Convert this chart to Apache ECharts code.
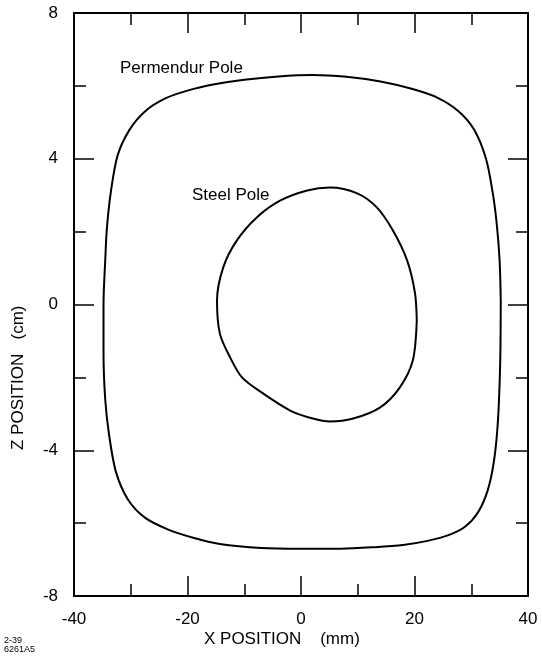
<!DOCTYPE html>
<html>
<head>
<meta charset="utf-8">
<script src="https://cdn.jsdelivr.net/npm/echarts@6/dist/echarts.min.js"></script>
<style>
html,body{margin:0;padding:0;background:#fff;}
#chart{width:542px;height:656px;}
</style>
</head>
<body>
<div id="chart"></div>
<script>
// X position (mm), Z position (cm)
var permendurX = [35.2, 35.0, 34.5, 33.8, 32.6, 30.5, 27.8, 24.0, 19.5, 14.0, 8.0, 2.0, -4.0, -10.0, -15.0, -20.0, -24.0, -27.5, -30.2, -32.3, -33.5, -34.2, -34.5, -34.8, -34.8, -34.5, -33.8, -32.6, -30.5, -27.5, -23.5, -19.0, -14.3, -7.0, 0.0, 7.0, 13.0, 18.0, 22.5, 26.0, 28.9, 31.2, 32.9, 34.0, 34.7, 35.1, 35.2];
var permendurZ = [0.1, 1.2, 2.2, 3.05, 4.0, 4.8, 5.3, 5.68, 5.92, 6.12, 6.25, 6.3, 6.26, 6.17, 6.05, 5.87, 5.65, 5.3, 4.8, 4.1, 3.1, 2.1, 1.2, 0.0, -1.3, -2.6, -3.6, -4.6, -5.35, -5.85, -6.17, -6.4, -6.57, -6.68, -6.7, -6.7, -6.66, -6.6, -6.48, -6.33, -6.1, -5.7, -5.1, -4.3, -3.2, -1.6, 0.1];
var steelX = [20.4, 20.1, 18.7, 16.2, 13.4, 9.9, 5.1, 1.1, -3.7, -7.8, -11.3, -13.7, -14.8, -14.3, -12.5, -10.4, -6.7, -1.9, 2.1, 5.1, 9.2, 13.9, 17.4, 19.7, 20.4];
var steelZ = [-0.44, 0.3, 1.21, 2.03, 2.66, 3.05, 3.21, 3.13, 2.85, 2.39, 1.76, 1.02, 0.11, -0.8, -1.45, -2.0, -2.44, -2.91, -3.13, -3.21, -3.13, -2.83, -2.28, -1.54, -0.44];
var xTicks = [-40, -20, 0, 20, 40];
var zTicks = [-8, -4, 0, 4, 8];
var curveNames = ['Permendur Pole', 'Steel Pole'];
var xTitle = 'X POSITION    (mm)';
var zTitle = 'Z POSITION   (cm)';
var footnote = '2-39\n6261A5';

function pairs(xs, zs) { return xs.map(function (v, i) { return [v, zs[i]]; }); }

var FONT = '"Liberation Sans", Arial, Helvetica, sans-serif';
var chart = echarts.init(document.getElementById('chart'));

function axisCommon(extra) {
  var a = {
    type: 'value',
    axisLine: { show: true, onZero: false, lineStyle: { color: '#000', width: 2 } },
    axisTick: { show: true, inside: true, length: 20, lineStyle: { color: '#000', width: 1.5 } },
    minorTick: { show: true, splitNumber: 2, length: 12, lineStyle: { color: '#000', width: 1.5 } },
    splitLine: { show: false },
    minorSplitLine: { show: false }
  };
  for (var k in extra) a[k] = extra[k];
  return a;
}

var option = {
  backgroundColor: '#fff',
  animation: false,
  grid: { left: 74, right: 14, top: 13, bottom: 60, show: false },
  xAxis: [
    axisCommon({ position: 'bottom', min: xTicks[0], max: xTicks[xTicks.length - 1], interval: 20,
      axisLabel: { show: true, margin: 15, color: '#000', fontSize: 17, fontFamily: FONT } }),
    axisCommon({ position: 'top', min: xTicks[0], max: xTicks[xTicks.length - 1], interval: 20,
      axisLabel: { show: false } })
  ],
  yAxis: [
    axisCommon({ position: 'left', min: zTicks[0], max: zTicks[zTicks.length - 1], interval: 4,
      axisLabel: { show: true, margin: 16, color: '#000', fontSize: 17, fontFamily: FONT } }),
    axisCommon({ position: 'right', min: zTicks[0], max: zTicks[zTicks.length - 1], interval: 4,
      axisLabel: { show: false } })
  ],
  series: [
    { name: curveNames[0], type: 'line', data: pairs(permendurX, permendurZ), smooth: 0.3,
      showSymbol: false, symbol: 'none', lineStyle: { color: '#000', width: 2 } },
    { name: curveNames[1], type: 'line', data: pairs(steelX, steelZ), smooth: 0.3,
      showSymbol: false, symbol: 'none', lineStyle: { color: '#000', width: 2 } }
  ],
  graphic: [
    { type: 'text', left: 120, top: 60, style: { text: curveNames[0], fill: '#000', font: '17px ' + FONT } },
    { type: 'text', left: 192, top: 187, style: { text: curveNames[1], fill: '#000', font: '17px ' + FONT } },
    { type: 'text', left: 204, top: 631, style: { text: xTitle, fill: '#000', font: '17px ' + FONT } },
    { type: 'text', x: 10, y: 450, rotation: Math.PI / 2, style: { text: zTitle, fill: '#000', font: '17px ' + FONT } },
    { type: 'text', left: 4, top: 636, style: { text: footnote, fill: '#000', font: '9px ' + FONT, lineHeight: 9 } }
  ]
};
chart.setOption(option);
</script>
</body>
</html>
